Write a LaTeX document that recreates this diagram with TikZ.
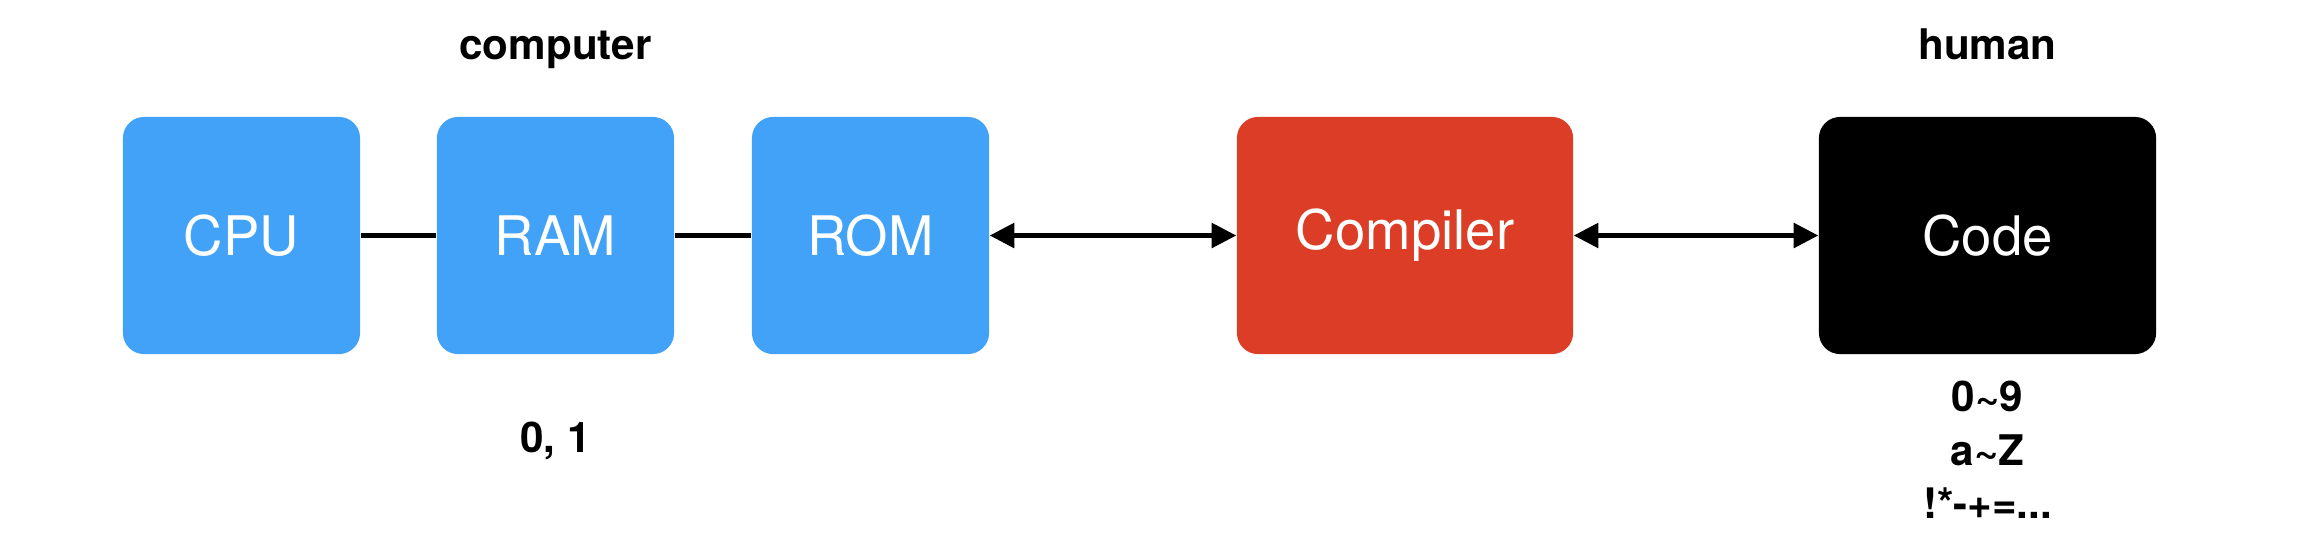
\documentclass[tikz,border=0pt]{standalone}
\usepackage{fontspec}
\setmainfont{TeX Gyre Heros}
\usetikzlibrary{arrows.meta}
\definecolor{KeyBlue}{HTML}{42A2F8}
\definecolor{KeyRed}{HTML}{DB3D27}

\begin{document}
\begin{tikzpicture}[x=0.01cm,y=0.01cm,
      block/.style={rounded corners=6pt,minimum width=2.37cm,minimum height=2.37cm,
                    text=white,inner sep=0pt,font=\fontsize{15.5}{18}\selectfont},
      link/.style={line width=1.15pt},
      flow/.style={{Triangle[length=7pt,width=7pt]}-{Triangle[length=7pt,width=7pt]},
                   line width=1.15pt},
      tag/.style={inner sep=0pt,align=center,font=\bfseries\fontsize{12}{15.3}\selectfont}]
    \useasboundingbox (0,0) rectangle (2322,544);
    \foreach \n/\x in {CPU/241.5,RAM/555.5,ROM/870.5}{%
      \node[block,fill=KeyBlue] (\n) at (\x,308.5) {\n};
    }
    \node[block,fill=KeyRed,minimum width=3.36cm] (compiler) at (1405,308.5) {Compiler};
    \node[block,fill=black,minimum width=3.37cm] (code) at (1987.5,308.5) {Code};
    \draw[link] (CPU) -- (RAM);
    \draw[link] (RAM) -- (ROM);
    \draw[flow] (ROM) -- (compiler);
    \draw[flow] (compiler) -- (code);

    \node[tag,anchor=base] (computer) at (555.5,485) {computer};
    \node[tag,anchor=base] (human) at (1987.5,485) {human};
    \node[tag,anchor=base] (bits) at (555.5,92) {0, 1};
    \node[tag,anchor=north] (chars) at (1987.5,164)
      {0\textasciitilde9\\ a\textasciitilde Z\\ !*-+=...};
  \end{tikzpicture}
\end{document}
